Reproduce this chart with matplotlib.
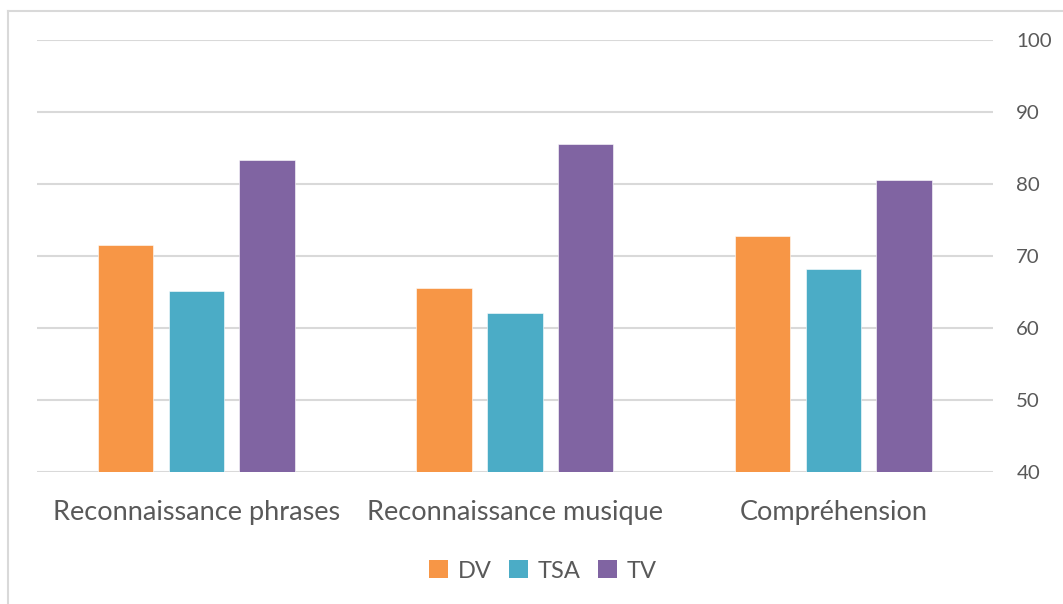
import matplotlib
matplotlib.use("Agg")
import matplotlib.pyplot as plt
from matplotlib.patches import Patch
from matplotlib.lines import Line2D
import numpy as np

categories = ["Reconnaissance phrases", "Reconnaissance musique", "Compréhension"]
series_names = ["DV", "TSA", "TV"]
dv = [71.5, 65.6, 72.8]
tsa = [65.2, 62.1, 68.2]
tv = [83.3, 85.6, 80.6]
yticks = [40, 50, 60, 70, 80, 90, 100]

colors = ["#F79646", "#4BACC6", "#8064A2"]
text_color = "#595959"
grid_color = "#D9D9D9"

plt.rcParams['font.family'] = ['Lato', 'DejaVu Sans']

W, H = 1063, 604
fig = plt.figure(figsize=(W / 100, H / 100), dpi=100)
ax = fig.add_axes([37 / W, 1 - 472 / H, (992.7 - 37) / W, (472 - 40) / H])

x = np.arange(len(categories))
width = 0.174
step = 0.222
for i, (vals, c) in enumerate(zip([dv, tsa, tv], colors)):
    ax.bar(x + (i - 1) * step, np.array(vals) - 40, width=width, bottom=40,
           color=c, zorder=3, edgecolor='white', linewidth=0.4)

ax.set_xlim(-0.5, 2.5)
ax.set_ylim(40, 100)
ax.set_yticks(yticks)
ax.yaxis.tick_right()
ax.yaxis.grid(True, color=grid_color, linewidth=1.5, zorder=0)
ax.set_axisbelow(True)
for s in ax.spines.values():
    s.set_visible(False)
ax.tick_params(axis='y', length=0, pad=17, labelsize=14.7, labelcolor=text_color)
for lab in ax.get_yticklabels():
    lab.set_horizontalalignment('left')
ax.set_xticks(x)
ax.set_xticklabels(categories)
ax.tick_params(axis='x', length=0, pad=20, labelsize=19.5, labelcolor=text_color)

handles = [Patch(facecolor=c, edgecolor='none') for c in colors]
leg = fig.legend(handles, series_names, loc='center', bbox_to_anchor=(543 / W, 1 - 571 / H),
                 ncol=3, frameon=False, fontsize=17, handlelength=0.8, handleheight=0.8,
                 handletextpad=0.4, columnspacing=0.75, labelcolor=text_color)

# outer frame (left and top)
fig.add_artist(Line2D([8 / W, 8 / W], [0, 1 - 11 / H], transform=fig.transFigure,
                      color=grid_color, linewidth=1.5))
fig.add_artist(Line2D([8 / W, 1], [1 - 11 / H, 1 - 11 / H], transform=fig.transFigure,
                      color=grid_color, linewidth=1.5))

fig.savefig("out.png", dpi=100, facecolor='white')
